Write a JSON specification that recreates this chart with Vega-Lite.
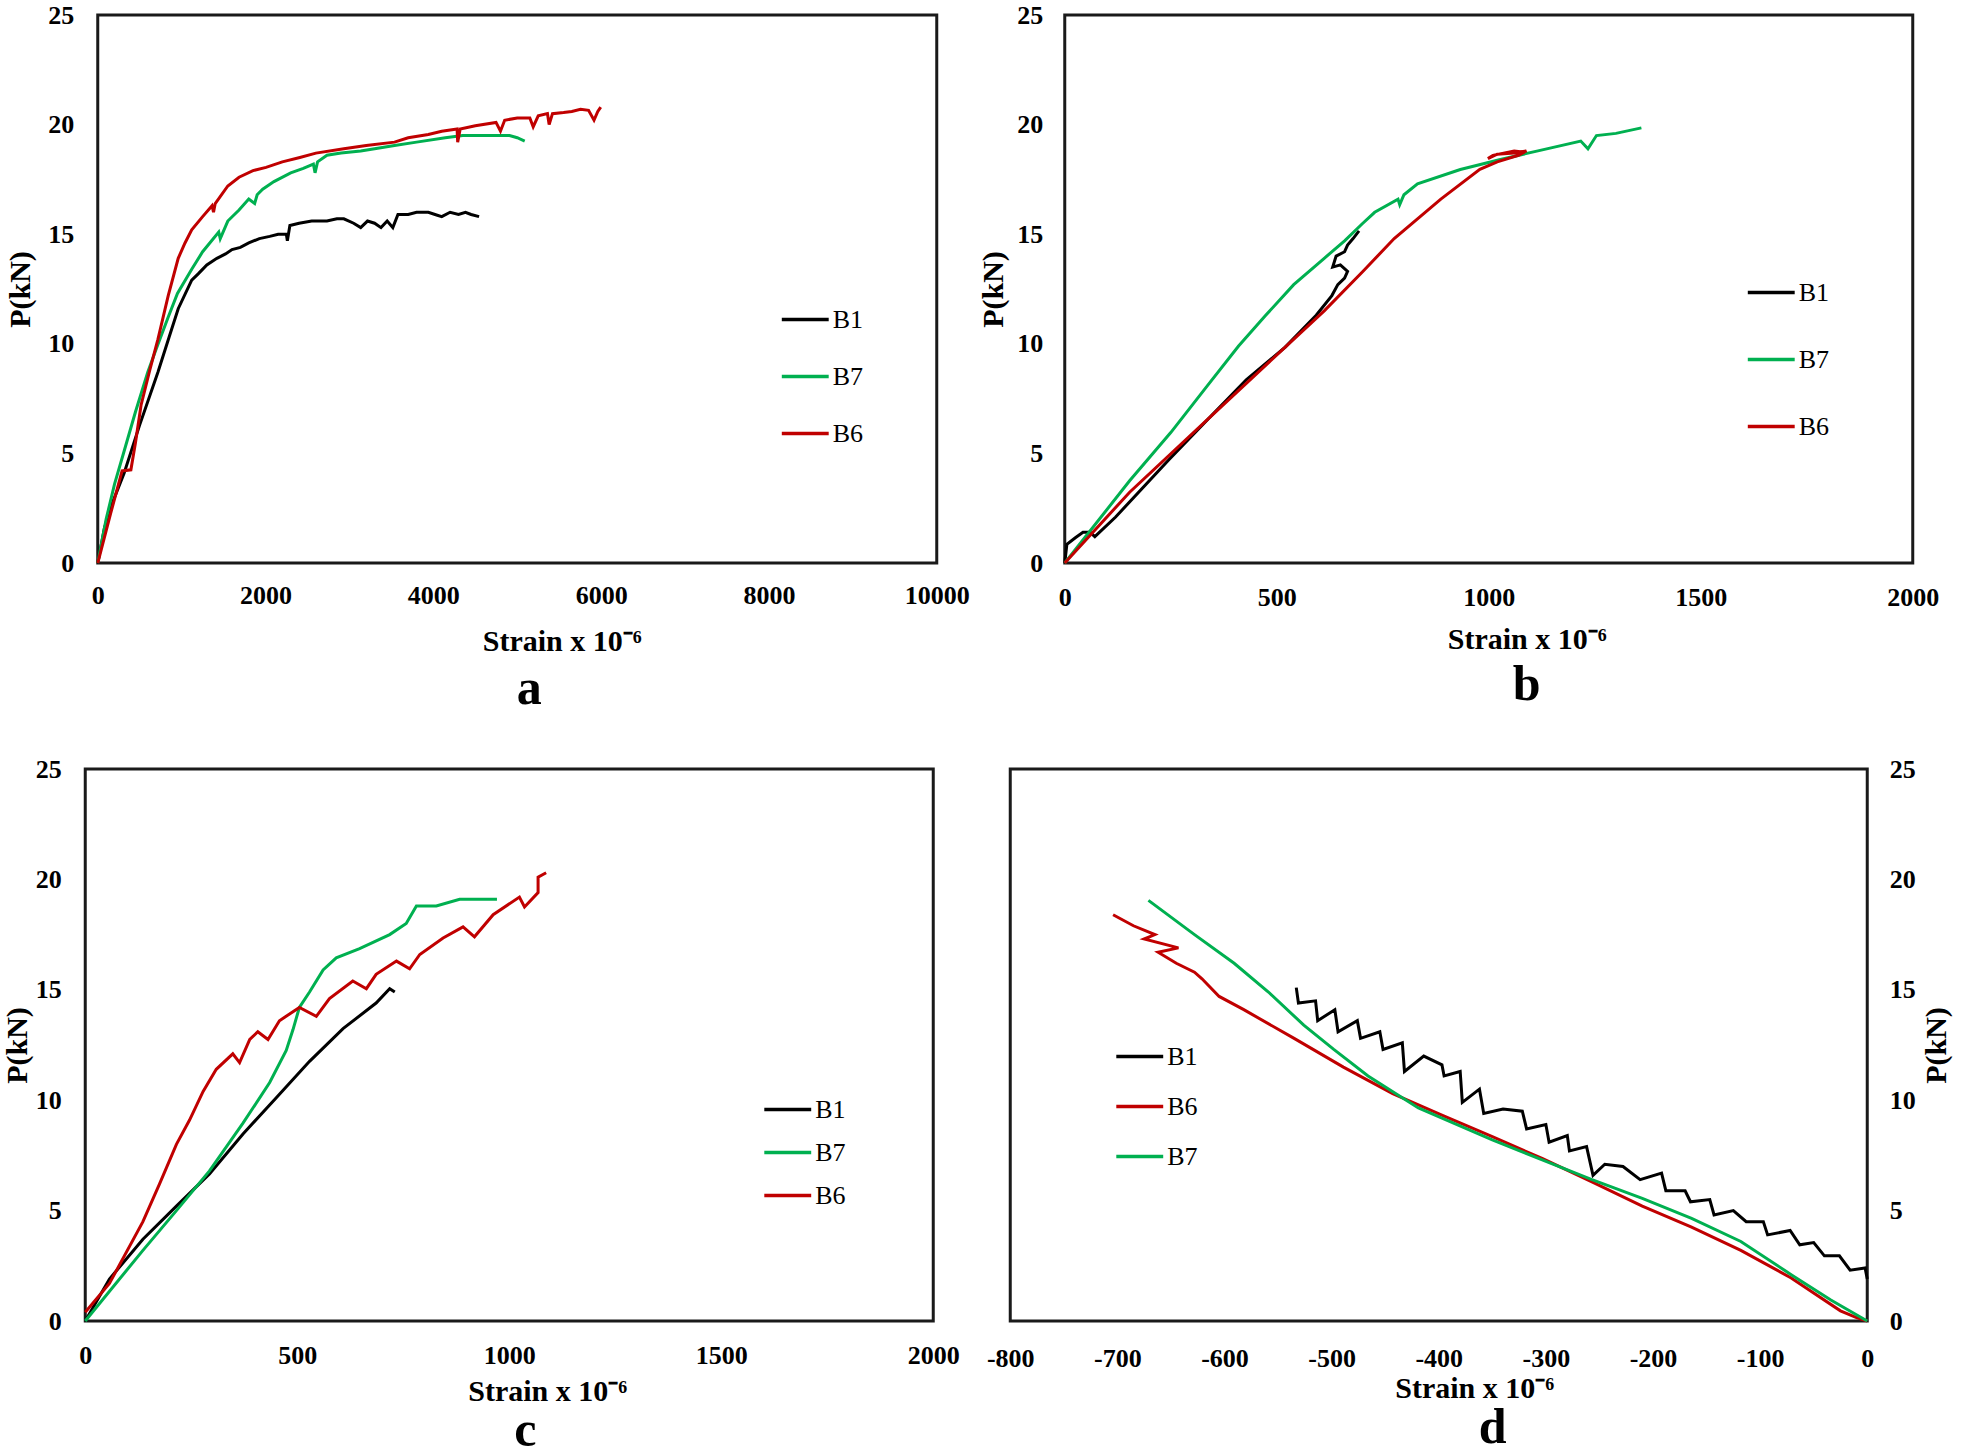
{
"$schema": "https://vega.github.io/schema/vega-lite/v6.json",
"padding": {"left": 0, "top": 0, "right": 0, "bottom": 0},
"background": "white",
"config": {
  "font": "Liberation Serif",
  "view": {"stroke": "#1a1a1a", "strokeWidth": 3},
  "axis": {"grid": false, "ticks": false, "domain": false, "labelFont": "Liberation Serif", "labelFontSize": 26, "labelFontWeight": "bold", "labelColor": "#000", "titleFont": "Liberation Serif", "titleFontSize": 30, "titleFontWeight": "bold", "titleColor": "#000", "labelFlush": false, "labelOverlap": false},
  "legend": {"title": null, "orient": "none", "symbolType": "stroke", "symbolSize": 2200, "symbolStrokeWidth": 3.5, "labelFont": "Liberation Serif", "labelFontSize": 26, "labelFontWeight": "normal", "labelColor": "#000", "labelOffset": 2, "padding": 0, "offset": 0},
  "title": {"font": "Liberation Serif", "fontSize": 50, "fontWeight": "bold", "color": "#000", "orient": "bottom", "frame": "group", "anchor": "middle"}
},
"datasets": {
  "a": [
    {"g":"B1","i":0,"s":0,"p":0},{"g":"B1","i":1,"s":80,"p":1.6},{"g":"B1","i":2,"s":160,"p":2.6},{"g":"B1","i":3,"s":314,"p":4.1},{"g":"B1","i":4,"s":500,"p":6.3},{"g":"B1","i":5,"s":717,"p":8.7},{"g":"B1","i":6,"s":850,"p":10.3},{"g":"B1","i":7,"s":959,"p":11.6},{"g":"B1","i":8,"s":1120,"p":12.9},{"g":"B1","i":9,"s":1200,"p":13.2},{"g":"B1","i":10,"s":1300,"p":13.6},{"g":"B1","i":11,"s":1420,"p":13.9},{"g":"B1","i":12,"s":1523,"p":14.1},{"g":"B1","i":13,"s":1600,"p":14.3},{"g":"B1","i":14,"s":1700,"p":14.4},{"g":"B1","i":15,"s":1800,"p":14.6},{"g":"B1","i":16,"s":1926,"p":14.8},{"g":"B1","i":17,"s":2050,"p":14.9},{"g":"B1","i":18,"s":2150,"p":15.0},{"g":"B1","i":19,"s":2248,"p":15.0},{"g":"B1","i":20,"s":2260,"p":14.7},{"g":"B1","i":21,"s":2290,"p":15.4},{"g":"B1","i":22,"s":2400,"p":15.5},{"g":"B1","i":23,"s":2550,"p":15.6},{"g":"B1","i":24,"s":2732,"p":15.6},{"g":"B1","i":25,"s":2850,"p":15.7},{"g":"B1","i":26,"s":2933,"p":15.7},{"g":"B1","i":27,"s":3050,"p":15.5},{"g":"B1","i":28,"s":3134,"p":15.3},{"g":"B1","i":29,"s":3215,"p":15.6},{"g":"B1","i":30,"s":3300,"p":15.5},{"g":"B1","i":31,"s":3376,"p":15.3},{"g":"B1","i":32,"s":3450,"p":15.6},{"g":"B1","i":33,"s":3517,"p":15.3},{"g":"B1","i":34,"s":3578,"p":15.9},{"g":"B1","i":35,"s":3700,"p":15.9},{"g":"B1","i":36,"s":3800,"p":16.0},{"g":"B1","i":37,"s":3940,"p":16.0},{"g":"B1","i":38,"s":4020,"p":15.9},{"g":"B1","i":39,"s":4100,"p":15.8},{"g":"B1","i":40,"s":4200,"p":16.0},{"g":"B1","i":41,"s":4300,"p":15.9},{"g":"B1","i":42,"s":4383,"p":16.0},{"g":"B1","i":43,"s":4450,"p":15.9},{"g":"B1","i":44,"s":4545,"p":15.8},
    {"g":"B7","i":0,"s":0,"p":0},{"g":"B7","i":1,"s":100,"p":2.0},{"g":"B7","i":2,"s":200,"p":3.6},{"g":"B7","i":3,"s":314,"p":5.1},{"g":"B7","i":4,"s":450,"p":6.9},{"g":"B7","i":5,"s":596,"p":8.7},{"g":"B7","i":6,"s":700,"p":9.8},{"g":"B7","i":7,"s":838,"p":11.2},{"g":"B7","i":8,"s":950,"p":12.3},{"g":"B7","i":9,"s":1120,"p":13.4},{"g":"B7","i":10,"s":1250,"p":14.2},{"g":"B7","i":11,"s":1442,"p":15.1},{"g":"B7","i":12,"s":1460,"p":14.8},{"g":"B7","i":13,"s":1550,"p":15.6},{"g":"B7","i":14,"s":1684,"p":16.1},{"g":"B7","i":15,"s":1800,"p":16.6},{"g":"B7","i":16,"s":1870,"p":16.4},{"g":"B7","i":17,"s":1900,"p":16.8},{"g":"B7","i":18,"s":1966,"p":17.05},{"g":"B7","i":19,"s":2100,"p":17.4},{"g":"B7","i":20,"s":2300,"p":17.8},{"g":"B7","i":21,"s":2450,"p":18.0},{"g":"B7","i":22,"s":2570,"p":18.2},{"g":"B7","i":23,"s":2590,"p":17.8},{"g":"B7","i":24,"s":2620,"p":18.3},{"g":"B7","i":25,"s":2732,"p":18.6},{"g":"B7","i":26,"s":2900,"p":18.7},{"g":"B7","i":27,"s":3134,"p":18.8},{"g":"B7","i":28,"s":3300,"p":18.9},{"g":"B7","i":29,"s":3537,"p":19.05},{"g":"B7","i":30,"s":3800,"p":19.2},{"g":"B7","i":31,"s":4142,"p":19.4},{"g":"B7","i":32,"s":4350,"p":19.5},{"g":"B7","i":33,"s":4545,"p":19.5},{"g":"B7","i":34,"s":4700,"p":19.5},{"g":"B7","i":35,"s":4908,"p":19.5},{"g":"B7","i":36,"s":5000,"p":19.4},{"g":"B7","i":37,"s":5089,"p":19.25},
    {"g":"B6","i":0,"s":0,"p":0},{"g":"B6","i":1,"s":153,"p":2.25},{"g":"B6","i":2,"s":290,"p":4.2},{"g":"B6","i":3,"s":395,"p":4.25},{"g":"B6","i":4,"s":450,"p":5.5},{"g":"B6","i":5,"s":516,"p":7.2},{"g":"B6","i":6,"s":620,"p":8.8},{"g":"B6","i":7,"s":717,"p":10.2},{"g":"B6","i":8,"s":840,"p":12.2},{"g":"B6","i":9,"s":959,"p":13.9},{"g":"B6","i":10,"s":1040,"p":14.6},{"g":"B6","i":11,"s":1120,"p":15.2},{"g":"B6","i":12,"s":1250,"p":15.8},{"g":"B6","i":13,"s":1362,"p":16.3},{"g":"B6","i":14,"s":1380,"p":16.0},{"g":"B6","i":15,"s":1400,"p":16.4},{"g":"B6","i":16,"s":1550,"p":17.2},{"g":"B6","i":17,"s":1684,"p":17.6},{"g":"B6","i":18,"s":1850,"p":17.9},{"g":"B6","i":19,"s":2006,"p":18.05},{"g":"B6","i":20,"s":2200,"p":18.3},{"g":"B6","i":21,"s":2409,"p":18.5},{"g":"B6","i":22,"s":2600,"p":18.7},{"g":"B6","i":23,"s":2933,"p":18.9},{"g":"B6","i":24,"s":3200,"p":19.05},{"g":"B6","i":25,"s":3537,"p":19.2},{"g":"B6","i":26,"s":3700,"p":19.4},{"g":"B6","i":27,"s":3940,"p":19.55},{"g":"B6","i":28,"s":4100,"p":19.7},{"g":"B6","i":29,"s":4283,"p":19.8},{"g":"B6","i":30,"s":4290,"p":19.2},{"g":"B6","i":31,"s":4320,"p":19.8},{"g":"B6","i":32,"s":4500,"p":19.95},{"g":"B6","i":33,"s":4747,"p":20.1},{"g":"B6","i":34,"s":4800,"p":19.7},{"g":"B6","i":35,"s":4850,"p":20.2},{"g":"B6","i":36,"s":5000,"p":20.3},{"g":"B6","i":37,"s":5150,"p":20.3},{"g":"B6","i":38,"s":5190,"p":19.9},{"g":"B6","i":39,"s":5250,"p":20.4},{"g":"B6","i":40,"s":5360,"p":20.5},{"g":"B6","i":41,"s":5380,"p":20.0},{"g":"B6","i":42,"s":5420,"p":20.5},{"g":"B6","i":43,"s":5552,"p":20.55},{"g":"B6","i":44,"s":5650,"p":20.6},{"g":"B6","i":45,"s":5754,"p":20.7},{"g":"B6","i":46,"s":5850,"p":20.65},{"g":"B6","i":47,"s":5915,"p":20.2},{"g":"B6","i":48,"s":5960,"p":20.6},{"g":"B6","i":49,"s":5995,"p":20.8}
  ],
  "b": [
    {"g":"B1","i":0,"s":0,"p":0},{"g":"B1","i":1,"s":5,"p":0.85},{"g":"B1","i":2,"s":25,"p":1.15},{"g":"B1","i":3,"s":43,"p":1.4},{"g":"B1","i":4,"s":60,"p":1.4},{"g":"B1","i":5,"s":71,"p":1.2},{"g":"B1","i":6,"s":120,"p":2.1},{"g":"B1","i":7,"s":245,"p":4.7},{"g":"B1","i":8,"s":340,"p":6.6},{"g":"B1","i":9,"s":428,"p":8.36},{"g":"B1","i":10,"s":520,"p":9.85},{"g":"B1","i":11,"s":593,"p":11.3},{"g":"B1","i":12,"s":630,"p":12.2},{"g":"B1","i":13,"s":644,"p":12.7},{"g":"B1","i":14,"s":660,"p":13.0},{"g":"B1","i":15,"s":667,"p":13.3},{"g":"B1","i":16,"s":650,"p":13.6},{"g":"B1","i":17,"s":632,"p":13.5},{"g":"B1","i":18,"s":640,"p":14.0},{"g":"B1","i":19,"s":660,"p":14.2},{"g":"B1","i":20,"s":667,"p":14.5},{"g":"B1","i":21,"s":680,"p":14.8},{"g":"B1","i":22,"s":694,"p":15.15},
    {"g":"B7","i":0,"s":0,"p":0},{"g":"B7","i":1,"s":153,"p":3.75},{"g":"B7","i":2,"s":250,"p":5.95},{"g":"B7","i":3,"s":337,"p":8.1},{"g":"B7","i":4,"s":410,"p":9.9},{"g":"B7","i":5,"s":474,"p":11.3},{"g":"B7","i":6,"s":540,"p":12.7},{"g":"B7","i":7,"s":612,"p":13.9},{"g":"B7","i":8,"s":660,"p":14.7},{"g":"B7","i":9,"s":703,"p":15.5},{"g":"B7","i":10,"s":731,"p":16.0},{"g":"B7","i":11,"s":786,"p":16.6},{"g":"B7","i":12,"s":790,"p":16.35},{"g":"B7","i":13,"s":800,"p":16.8},{"g":"B7","i":14,"s":832,"p":17.3},{"g":"B7","i":15,"s":933,"p":17.95},{"g":"B7","i":16,"s":1025,"p":18.4},{"g":"B7","i":17,"s":1116,"p":18.8},{"g":"B7","i":18,"s":1217,"p":19.25},{"g":"B7","i":19,"s":1234,"p":18.9},{"g":"B7","i":20,"s":1254,"p":19.5},{"g":"B7","i":21,"s":1300,"p":19.6},{"g":"B7","i":22,"s":1360,"p":19.85},
    {"g":"B6","i":0,"s":0,"p":0},{"g":"B6","i":1,"s":153,"p":3.23},{"g":"B6","i":2,"s":337,"p":6.55},{"g":"B6","i":3,"s":520,"p":9.85},{"g":"B6","i":4,"s":612,"p":11.5},{"g":"B6","i":5,"s":703,"p":13.3},{"g":"B6","i":6,"s":777,"p":14.8},{"g":"B6","i":7,"s":887,"p":16.6},{"g":"B6","i":8,"s":979,"p":17.96},{"g":"B6","i":9,"s":1020,"p":18.3},{"g":"B6","i":10,"s":1070,"p":18.6},{"g":"B6","i":11,"s":1089,"p":18.8},{"g":"B6","i":12,"s":1060,"p":18.7},{"g":"B6","i":13,"s":1020,"p":18.65},{"g":"B6","i":14,"s":998,"p":18.45},{"g":"B6","i":15,"s":1010,"p":18.6},{"g":"B6","i":16,"s":1060,"p":18.8},{"g":"B6","i":17,"s":1080,"p":18.75}
  ],
  "c": [
    {"g":"B1","i":0,"s":0,"p":0},{"g":"B1","i":1,"s":57,"p":1.9},{"g":"B1","i":2,"s":136,"p":3.7},{"g":"B1","i":3,"s":215,"p":5.2},{"g":"B1","i":4,"s":293,"p":6.66},{"g":"B1","i":5,"s":372,"p":8.47},{"g":"B1","i":6,"s":450,"p":10.1},{"g":"B1","i":7,"s":529,"p":11.76},{"g":"B1","i":8,"s":608,"p":13.24},{"g":"B1","i":9,"s":686,"p":14.4},{"g":"B1","i":10,"s":718,"p":15.05},{"g":"B1","i":11,"s":730,"p":14.9},
    {"g":"B7","i":0,"s":0,"p":0},{"g":"B7","i":1,"s":136,"p":3.2},{"g":"B7","i":2,"s":215,"p":5.0},{"g":"B7","i":3,"s":293,"p":6.8},{"g":"B7","i":4,"s":372,"p":8.96},{"g":"B7","i":5,"s":435,"p":10.8},{"g":"B7","i":6,"s":474,"p":12.25},{"g":"B7","i":7,"s":490,"p":13.2},{"g":"B7","i":8,"s":505,"p":14.2},{"g":"B7","i":9,"s":529,"p":14.9},{"g":"B7","i":10,"s":561,"p":15.9},{"g":"B7","i":11,"s":592,"p":16.45},{"g":"B7","i":12,"s":647,"p":16.86},{"g":"B7","i":13,"s":718,"p":17.5},{"g":"B7","i":14,"s":757,"p":18.0},{"g":"B7","i":15,"s":781,"p":18.8},{"g":"B7","i":16,"s":828,"p":18.8},{"g":"B7","i":17,"s":883,"p":19.1},{"g":"B7","i":18,"s":971,"p":19.1},
    {"g":"B6","i":0,"s":0,"p":0.4},{"g":"B6","i":1,"s":57,"p":1.7},{"g":"B6","i":2,"s":136,"p":4.5},{"g":"B6","i":3,"s":175,"p":6.2},{"g":"B6","i":4,"s":215,"p":8.0},{"g":"B6","i":5,"s":246,"p":9.1},{"g":"B6","i":6,"s":278,"p":10.4},{"g":"B6","i":7,"s":309,"p":11.4},{"g":"B6","i":8,"s":348,"p":12.1},{"g":"B6","i":9,"s":364,"p":11.7},{"g":"B6","i":10,"s":388,"p":12.75},{"g":"B6","i":11,"s":407,"p":13.1},{"g":"B6","i":12,"s":431,"p":12.75},{"g":"B6","i":13,"s":458,"p":13.6},{"g":"B6","i":14,"s":505,"p":14.2},{"g":"B6","i":15,"s":545,"p":13.8},{"g":"B6","i":16,"s":576,"p":14.6},{"g":"B6","i":17,"s":631,"p":15.4},{"g":"B6","i":18,"s":663,"p":15.05},{"g":"B6","i":19,"s":686,"p":15.7},{"g":"B6","i":20,"s":734,"p":16.3},{"g":"B6","i":21,"s":765,"p":15.95},{"g":"B6","i":22,"s":789,"p":16.6},{"g":"B6","i":23,"s":844,"p":17.35},{"g":"B6","i":24,"s":891,"p":17.85},{"g":"B6","i":25,"s":918,"p":17.4},{"g":"B6","i":26,"s":962,"p":18.4},{"g":"B6","i":27,"s":1024,"p":19.2},{"g":"B6","i":28,"s":1036,"p":18.75},{"g":"B6","i":29,"s":1068,"p":19.4},{"g":"B6","i":30,"s":1068,"p":20.1},{"g":"B6","i":31,"s":1087,"p":20.3}
  ],
  "d": [
    {"g":"B1","i":0,"s":-533,"p":15.1},{"g":"B1","i":1,"s":-531,"p":14.4},{"g":"B1","i":2,"s":-515,"p":14.5},{"g":"B1","i":3,"s":-513,"p":13.6},{"g":"B1","i":4,"s":-497,"p":14.1},{"g":"B1","i":5,"s":-494,"p":13.1},{"g":"B1","i":6,"s":-476,"p":13.6},{"g":"B1","i":7,"s":-473,"p":12.8},{"g":"B1","i":8,"s":-455,"p":13.1},{"g":"B1","i":9,"s":-452,"p":12.3},{"g":"B1","i":10,"s":-434,"p":12.6},{"g":"B1","i":11,"s":-432,"p":11.3},{"g":"B1","i":12,"s":-414,"p":12.0},{"g":"B1","i":13,"s":-397,"p":11.6},{"g":"B1","i":14,"s":-395,"p":11.1},{"g":"B1","i":15,"s":-380,"p":11.3},{"g":"B1","i":16,"s":-378,"p":9.9},{"g":"B1","i":17,"s":-362,"p":10.5},{"g":"B1","i":18,"s":-358,"p":9.4},{"g":"B1","i":19,"s":-340,"p":9.6},{"g":"B1","i":20,"s":-322,"p":9.5},{"g":"B1","i":21,"s":-318,"p":8.7},{"g":"B1","i":22,"s":-300,"p":8.9},{"g":"B1","i":23,"s":-297,"p":8.1},{"g":"B1","i":24,"s":-280,"p":8.4},{"g":"B1","i":25,"s":-278,"p":7.7},{"g":"B1","i":26,"s":-262,"p":7.9},{"g":"B1","i":27,"s":-256,"p":6.6},{"g":"B1","i":28,"s":-245,"p":7.1},{"g":"B1","i":29,"s":-228,"p":7.0},{"g":"B1","i":30,"s":-212,"p":6.4},{"g":"B1","i":31,"s":-192,"p":6.7},{"g":"B1","i":32,"s":-188,"p":5.9},{"g":"B1","i":33,"s":-170,"p":5.9},{"g":"B1","i":34,"s":-165,"p":5.4},{"g":"B1","i":35,"s":-147,"p":5.5},{"g":"B1","i":36,"s":-143,"p":4.8},{"g":"B1","i":37,"s":-125,"p":5.0},{"g":"B1","i":38,"s":-113,"p":4.5},{"g":"B1","i":39,"s":-97,"p":4.5},{"g":"B1","i":40,"s":-93,"p":3.9},{"g":"B1","i":41,"s":-72,"p":4.1},{"g":"B1","i":42,"s":-63,"p":3.45},{"g":"B1","i":43,"s":-50,"p":3.55},{"g":"B1","i":44,"s":-40,"p":2.95},{"g":"B1","i":45,"s":-26,"p":2.95},{"g":"B1","i":46,"s":-16,"p":2.3},{"g":"B1","i":47,"s":-2,"p":2.4},{"g":"B1","i":48,"s":0,"p":1.9},
    {"g":"B6","i":0,"s":-704,"p":18.4},{"g":"B6","i":1,"s":-685,"p":17.9},{"g":"B6","i":2,"s":-665,"p":17.5},{"g":"B6","i":3,"s":-675,"p":17.3},{"g":"B6","i":4,"s":-643,"p":16.9},{"g":"B6","i":5,"s":-662,"p":16.7},{"g":"B6","i":6,"s":-645,"p":16.2},{"g":"B6","i":7,"s":-628,"p":15.8},{"g":"B6","i":8,"s":-621,"p":15.5},{"g":"B6","i":9,"s":-605,"p":14.7},{"g":"B6","i":10,"s":-582,"p":14.1},{"g":"B6","i":11,"s":-535,"p":12.8},{"g":"B6","i":12,"s":-489,"p":11.5},{"g":"B6","i":13,"s":-443,"p":10.3},{"g":"B6","i":14,"s":-396,"p":9.3},{"g":"B6","i":15,"s":-350,"p":8.35},{"g":"B6","i":16,"s":-303,"p":7.35},{"g":"B6","i":17,"s":-257,"p":6.3},{"g":"B6","i":18,"s":-210,"p":5.2},{"g":"B6","i":19,"s":-164,"p":4.25},{"g":"B6","i":20,"s":-118,"p":3.2},{"g":"B6","i":21,"s":-71,"p":1.95},{"g":"B6","i":22,"s":-25,"p":0.46},{"g":"B6","i":23,"s":-10,"p":0.15},{"g":"B6","i":24,"s":0,"p":0},
    {"g":"B7","i":0,"s":-671,"p":19.05},{"g":"B7","i":1,"s":-628,"p":17.5},{"g":"B7","i":2,"s":-591,"p":16.2},{"g":"B7","i":3,"s":-559,"p":14.9},{"g":"B7","i":4,"s":-526,"p":13.4},{"g":"B7","i":5,"s":-498,"p":12.3},{"g":"B7","i":6,"s":-466,"p":11.1},{"g":"B7","i":7,"s":-419,"p":9.65},{"g":"B7","i":8,"s":-350,"p":8.2},{"g":"B7","i":9,"s":-257,"p":6.4},{"g":"B7","i":10,"s":-210,"p":5.55},{"g":"B7","i":11,"s":-164,"p":4.65},{"g":"B7","i":12,"s":-118,"p":3.6},{"g":"B7","i":13,"s":-71,"p":2.1},{"g":"B7","i":14,"s":-34,"p":0.95},{"g":"B7","i":15,"s":0,"p":0}
  ]
},
"center": true,
"spacing": 38,
"resolve": {"scale": {"color": "independent"}, "legend": {"color": "independent"}},
"vconcat": [
  {
    "spacing": 6,
    "resolve": {"scale": {"color": "independent"}, "legend": {"color": "independent"}},
    "hconcat": [
      {
        "width": 839, "height": 548,
        "data": {"name": "a"},
        "mark": {"type": "line", "strokeWidth": 3},
        "encoding": {
          "x": {"field": "s", "type": "quantitative", "scale": {"domain": [0, 10000], "nice": false, "zero": false}, "axis": {"title": "Strain x 10⁻⁶", "format": "d", "values": [0, 2000, 4000, 6000, 8000, 10000], "labelPadding": 19, "titlePadding": 18, "titleX": 464}},
          "y": {"field": "p", "type": "quantitative", "scale": {"domain": [0, 25], "nice": false}, "axis": {"title": "P(kN)", "values": [0, 5, 10, 15, 20, 25], "labelPadding": 24, "titlePadding": 12}},
          "color": {"field": "g", "type": "nominal", "scale": {"domain": ["B1", "B7", "B6"], "range": ["#000000", "#00B050", "#C00000"]}, "legend": {"legendX": 682, "legendY": 279, "rowPadding": 18}},
          "order": {"field": "i", "type": "quantitative"}
        },
        "title": {"text": "a", "dx": 12, "offset": 8}
      },
      {
        "width": 848, "height": 548,
        "data": {"name": "b"},
        "mark": {"type": "line", "strokeWidth": 3},
        "encoding": {
          "x": {"field": "s", "type": "quantitative", "scale": {"domain": [0, 2000], "nice": false, "zero": false}, "axis": {"title": "Strain x 10⁻⁶", "format": "d", "values": [0, 500, 1000, 1500, 2000], "labelPadding": 21, "titlePadding": 14, "titleX": 462}},
          "y": {"field": "p", "type": "quantitative", "scale": {"domain": [0, 25], "nice": false}, "axis": {"title": "P(kN)", "values": [0, 5, 10, 15, 20, 25], "labelPadding": 22, "titlePadding": 8}},
          "color": {"field": "g", "type": "nominal", "scale": {"domain": ["B1", "B7", "B6"], "range": ["#000000", "#00B050", "#C00000"]}, "legend": {"legendX": 681, "legendY": 252, "rowPadding": 28}},
          "order": {"field": "i", "type": "quantitative"}
        },
        "title": {"text": "b", "dx": 38, "offset": 6}
      }
    ]
  },
  {
    "spacing": 23,
    "resolve": {"scale": {"color": "independent"}, "legend": {"color": "independent"}},
    "hconcat": [
      {
        "width": 848, "height": 552,
        "data": {"name": "c"},
        "mark": {"type": "line", "strokeWidth": 3},
        "encoding": {
          "x": {"field": "s", "type": "quantitative", "scale": {"domain": [0, 2000], "nice": false, "zero": false}, "axis": {"title": "Strain x 10⁻⁶", "format": "d", "values": [0, 500, 1000, 1500, 2000], "labelPadding": 21, "titlePadding": 8, "titleX": 462}},
          "y": {"field": "p", "type": "quantitative", "scale": {"domain": [0, 25], "nice": false}, "axis": {"title": "P(kN)", "values": [0, 5, 10, 15, 20, 25], "labelPadding": 24, "titlePadding": 3}},
          "color": {"field": "g", "type": "nominal", "scale": {"domain": ["B1", "B7", "B6"], "range": ["#000000", "#00B050", "#C00000"]}, "legend": {"legendX": 677, "legendY": 315, "rowPadding": 4}},
          "order": {"field": "i", "type": "quantitative"}
        },
        "title": {"text": "c", "dx": 16, "offset": 0}
      },
      {
        "width": 857, "height": 552,
        "data": {"name": "d"},
        "mark": {"type": "line", "strokeWidth": 3},
        "encoding": {
          "x": {"field": "s", "type": "quantitative", "scale": {"domain": [-800, 0], "nice": false, "zero": false}, "axis": {"title": "Strain x 10⁻⁶", "values": [-800, -700, -600, -500, -400, -300, -200, -100, 0], "labelExpr": "'' + datum.value", "labelPadding": 24, "titlePadding": 2, "titleX": 464}},
          "y": {"field": "p", "type": "quantitative", "scale": {"domain": [0, 25], "nice": false}, "axis": {"orient": "right", "title": "P(kN)", "titleAngle": 270, "titleBaseline": "top", "values": [0, 5, 10, 15, 20, 25], "labelPadding": 22, "titlePadding": 6}},
          "color": {"field": "g", "type": "nominal", "scale": {"domain": ["B1", "B6", "B7"], "range": ["#000000", "#C00000", "#00B050"]}, "legend": {"legendX": 104, "legendY": 262, "rowPadding": 11}},
          "order": {"field": "i", "type": "quantitative"}
        },
        "title": {"text": "d", "dx": 54, "offset": 0}
      }
    ]
  }
]
}
